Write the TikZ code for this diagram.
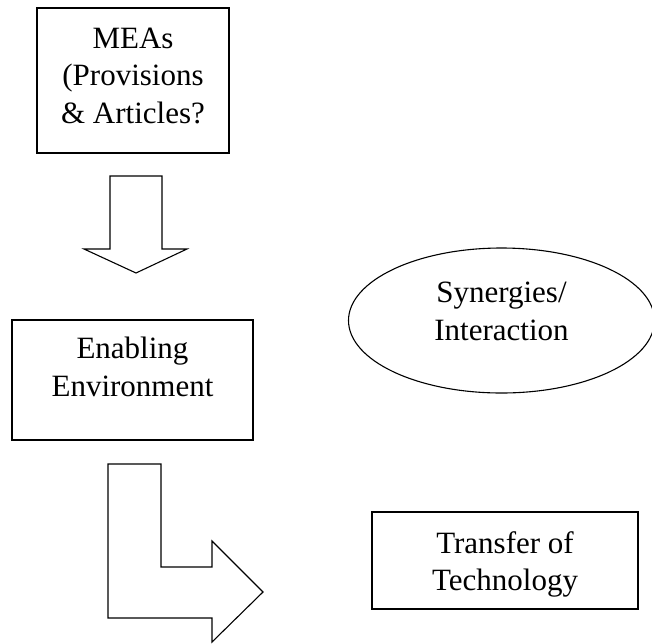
\documentclass[tikz,border=0pt]{standalone}
\usepackage{fontspec}
\setmainfont{Liberation Serif}
\usetikzlibrary{shapes.geometric}
\tikzset{
  box/.style={draw, line width=1.1pt, inner sep=0pt},
  boxtext/.style={align=center, inner sep=0pt},
  blockarrow/.style={draw, line width=1.1pt, fill=white, line join=miter}
}
\begin{document}
\begin{tikzpicture}[x=1pt, y=-1pt, font=\fontsize{31}{37.5}\selectfont]
        \useasboundingbox (0,0) rectangle (652,643);

        % Boxes and ellipse
        \node[box, minimum width=192pt, minimum height=145pt,
              label={[boxtext, yshift=5pt]center:MEAs\\(Provisions\\\& Articles?}] (MEA) at (133,80.5) {};
        \node[box, minimum width=241pt, minimum height=120pt,
              label={[boxtext, yshift=13pt]center:Enabling\\Environment}] (ENV) at (132.5,380) {};
        \node[box, ellipse, minimum width=306pt, minimum height=145pt,
              label={[boxtext, yshift=9pt]center:Synergies/\\Interaction}] (SYN) at (501.5,320.5) {};
        \node[box, minimum width=266pt, minimum height=97pt,
              label={[boxtext, yshift=-4pt]center:Transfer of\\Technology}] (TOT) at (505,560.5) {};

        % Block arrows
        \draw[blockarrow] (110,176) -- (162,176) -- (162,249) -- (187,249) -- (136,273) -- (84,249) -- (110,249) -- cycle;
        \draw[blockarrow] (108,464) -- (161,464) -- (161,567) -- (212,567) -- (212,541) -- (263,592) -- (212,642) -- (212,618) -- (108,618) -- cycle;
    \end{tikzpicture}
\end{document}
